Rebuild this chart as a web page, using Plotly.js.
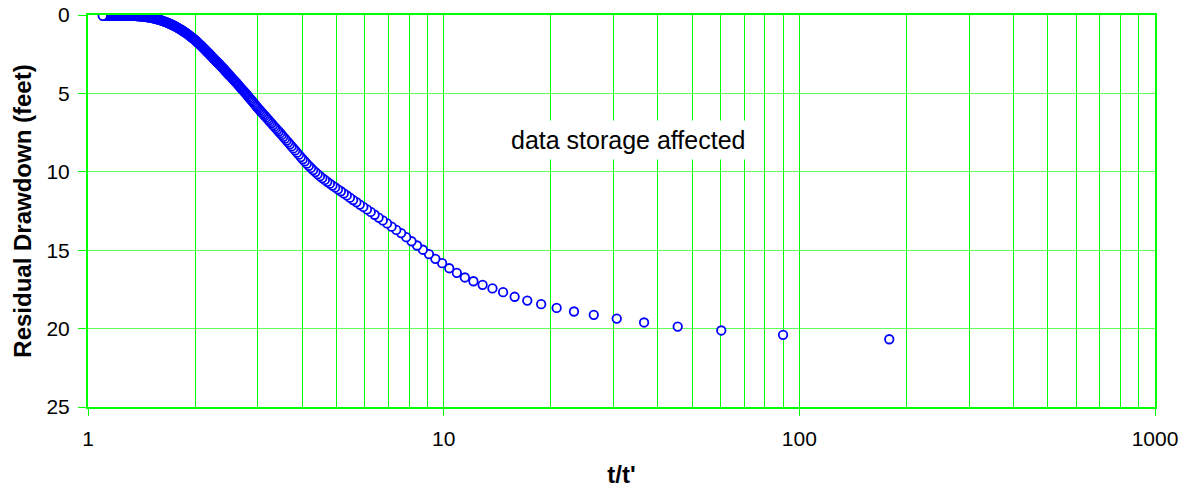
<!DOCTYPE html>
<html><head><meta charset="utf-8">
<script src="https://cdn.plot.ly/plotly-3.0.1.min.js"></script>
<style>html,body{margin:0;padding:0;background:#fff;} #chart{width:1181px;height:488px;}</style>
</head><body><div id="chart"></div>
<script>
// t/t' values (increasing)
const tRatio = [
 1.10,1.11,1.12,1.13,1.14,1.15,1.16,1.17,1.18,1.19,1.20,1.21,1.22,1.23,1.24,1.25,1.26,1.27,1.28,1.29,1.30,1.31,1.32,
 1.33,1.34,1.35,1.36,1.37,1.38,1.39,1.40,1.41,1.42,1.43,1.44,1.45,1.46,1.47,1.48,1.49,1.50,1.51,1.52,1.53,1.54,1.55,1.56,1.57,1.58,1.59,1.60,
 1.61,1.62,1.63,1.64,1.65,1.66,1.67,1.68,1.69,1.70,
 1.71,1.72,1.73,1.74,1.75,1.76,1.77,1.78,1.79,1.80,
 1.81,1.82,1.83,1.84,1.85,1.86,1.87,1.88,1.89,1.90,
 1.91,1.92,1.93,1.94,1.95,1.96,1.97,1.98,1.99,2.00,
 2.01,2.02,2.03,2.04,2.05,2.06,2.07,2.08,2.09,2.10,
 2.11,2.12,2.13,2.14,2.15,2.16,2.17,2.18,2.19,2.20,
 2.21,2.22,2.23,2.24,2.25,
 2.26,2.27,2.28,2.29,2.30,2.31,2.32,2.33,2.34,2.35,
 2.36,2.37,2.38,2.39,2.40,2.41,2.42,2.43,2.44,2.45,
 2.46,2.47,2.48,2.49,2.50,
 2.52,2.54,2.56,2.58,2.60,2.62,2.64,2.66,2.68,2.70,2.72,2.74,
 2.76,2.78,2.80,2.82,2.84,2.86,2.88,2.90,2.92,2.94,2.96,2.98,
 3.000,3.023,3.046,3.070,3.094,3.119,3.145,3.171,3.198,3.225,
 3.253,3.282,3.312,3.342,3.373,3.405,3.438,3.472,3.507,3.543,
 3.580,3.618,3.657,3.697,3.739,3.781,3.825,3.871,3.918,3.967,
 4.017,4.069,4.123,4.179,4.236,4.296,4.359,4.423,4.490,4.560,
 4.633,4.708,4.787,4.870,4.956,5.046,5.140,5.238,5.342,
 5.450,5.564,5.684,5.811,5.944,6.086,6.235,6.394,6.563,6.742,
 6.933,7.138,7.357,7.593,7.846,8.120,8.417,8.739,9.091,9.476,
 9.900,10.368,10.889,11.471,12.125,12.867,13.714,14.692,15.833,17.182,
 18.800,20.778,23.250,26.429,30.667,36.600,45.500,60.333,90.000,179.000
];
// residual drawdown (feet), same order
const residualDrawdown = [
 0.05,0.05,0.05,0.05,0.05,0.05,0.05,0.05,0.05,0.05,0.05,0.05,0.05,0.05,0.05,0.05,0.05,0.05,0.05,0.05,0.05,0.05,0.05,
 0.05,0.06,0.06,0.06,0.07,0.07,0.08,0.08,0.09,0.10,0.11,0.11,0.12,0.13,0.14,0.15,0.16,0.17,0.18,0.20,0.21,0.23,0.24,0.26,0.28,0.29,0.31,0.33,
 0.35,0.37,0.39,0.42,0.44,0.46,0.49,0.51,0.54,0.56,
 0.59,0.61,0.64,0.67,0.70,0.73,0.76,0.79,0.82,0.85,
 0.88,0.92,0.95,0.99,1.02,1.06,1.09,1.13,1.16,1.20,
 1.24,1.28,1.32,1.36,1.40,1.44,1.48,1.52,1.56,1.60,
 1.64,1.69,1.73,1.78,1.82,1.87,1.91,1.96,2.00,2.05,
 2.10,2.14,2.19,2.24,2.28,2.33,2.38,2.42,2.47,2.52,
 2.56,2.61,2.66,2.70,2.75,
 2.79,2.84,2.88,2.93,2.97,3.01,3.06,3.10,3.14,3.19,
 3.23,3.28,3.32,3.36,3.41,3.45,3.50,3.54,3.59,3.63,
 3.67,3.72,3.76,3.81,3.85,
 3.93,4.02,4.10,4.19,4.27,4.35,4.44,4.52,4.61,4.69,4.77,4.86,
 4.94,5.02,5.10,5.19,5.27,5.35,5.43,5.51,5.59,5.68,5.76,5.84,
 5.92,6.00,6.09,6.18,6.26,6.35,6.44,6.53,6.63,6.72,
 6.82,6.91,7.02,7.12,7.22,7.32,7.43,7.54,7.65,7.77,
 7.89,8.01,8.13,8.25,8.38,8.51,8.64,8.78,8.91,9.06,
 9.20,9.34,9.48,9.62,9.75,9.89,10.02,10.15,10.28,10.40,
 10.52,10.64,10.76,10.88,11.00,11.12,11.24,11.38,11.51,
 11.65,11.80,11.94,12.09,12.24,12.40,12.56,12.74,12.92,13.10,
 13.29,13.50,13.71,13.91,14.17,14.43,14.70,14.97,15.25,15.55,
 15.83,16.15,16.44,16.74,16.98,17.21,17.44,17.68,17.97,18.21,
 18.44,18.68,18.91,19.12,19.36,19.61,19.87,20.12,20.40,20.68
];
const xTickVals = [1, 10, 100, 1000];
const xTickText = ['1', '10', '100', '1000'];
const xMinorVals = [2,3,4,5,6,7,8,9,20,30,40,50,60,70,80,90,200,300,400,500,600,700,800,900];
const yTickVals = [0, 5, 10, 15, 20, 25];
const noteText = 'data storage affected';
const noteX = 33, noteY = 7.95;

// points recorded in time order: large t/t' first, so the smallest t/t' is drawn last
const xs = tRatio.slice().reverse();
const ys = residualDrawdown.slice().reverse();
// marker fill: white where circles stand apart, see-through in the dense band, white for the last one drawn
const fills = xs.map((v, i) => (v >= 2.9 || i === xs.length - 1) ? '#ffffff' : 'rgba(255,255,255,0)');

const green = '#00ff00';
const fontFam = 'Liberation Sans, Arial, Helvetica, sans-serif';

const trace = {
  x: xs, y: ys, type: 'scatter', mode: 'markers',
  marker: {symbol: 'circle', size: 8.5, color: fills, line: {color: '#0000ff', width: 1.8}},
  hoverinfo: 'x+y'
};

const layout = {
  width: 1181, height: 488,
  margin: {l: 88, r: 26, t: 15, b: 81, pad: 0},
  paper_bgcolor: '#ffffff', plot_bgcolor: '#ffffff',
  showlegend: false,
  font: {family: fontFam, color: '#000000'},
  xaxis: {
    type: 'log', range: [0, 3], autorange: false,
    tickmode: 'array', tickvals: xTickVals, ticktext: xTickText,
    ticks: 'outside', ticklen: 7, tickcolor: green, tickwidth: 1,
    showgrid: true, gridcolor: green, gridwidth: 1,
    showline: true, linecolor: green, linewidth: 2, mirror: true,
    zeroline: false, automargin: false,
    tickfont: {size: 21, family: fontFam, color: '#000'},
    ticklabelstandoff: 5,
    minor: {tickmode: 'array', tickvals: xMinorVals, showgrid: true, gridcolor: green, gridwidth: 1, ticks: ''},
    title: {text: "t/t'", font: {size: 24, family: fontFam, weight: 'bold', color: '#000'}, standoff: 23}
  },
  yaxis: {
    range: [25, 0], autorange: false,
    tickmode: 'array', tickvals: yTickVals,
    ticks: 'outside', ticklen: 8, tickcolor: green, tickwidth: 1,
    showgrid: true, gridcolor: '#5cff5c', gridwidth: 1,
    showline: true, linecolor: green, linewidth: 2, mirror: true,
    zeroline: false, automargin: false,
    tickfont: {size: 21, family: fontFam, color: '#000'},
    ticklabelstandoff: 4,
    title: {text: 'Residual Drawdown (feet)', font: {size: 24, family: fontFam, weight: 'bold', color: '#000'}, standoff: 8}
  },
  annotations: [{
    xref: 'x', yref: 'y', x: Math.log10(noteX), y: noteY,
    text: noteText, showarrow: false, bgcolor: '#ffffff', borderpad: 5,
    font: {size: 25, family: fontFam, color: '#000'}
  }]
};

Plotly.newPlot('chart', [trace], layout, {displayModeBar: false, staticPlot: true});
</script>
</body></html>
